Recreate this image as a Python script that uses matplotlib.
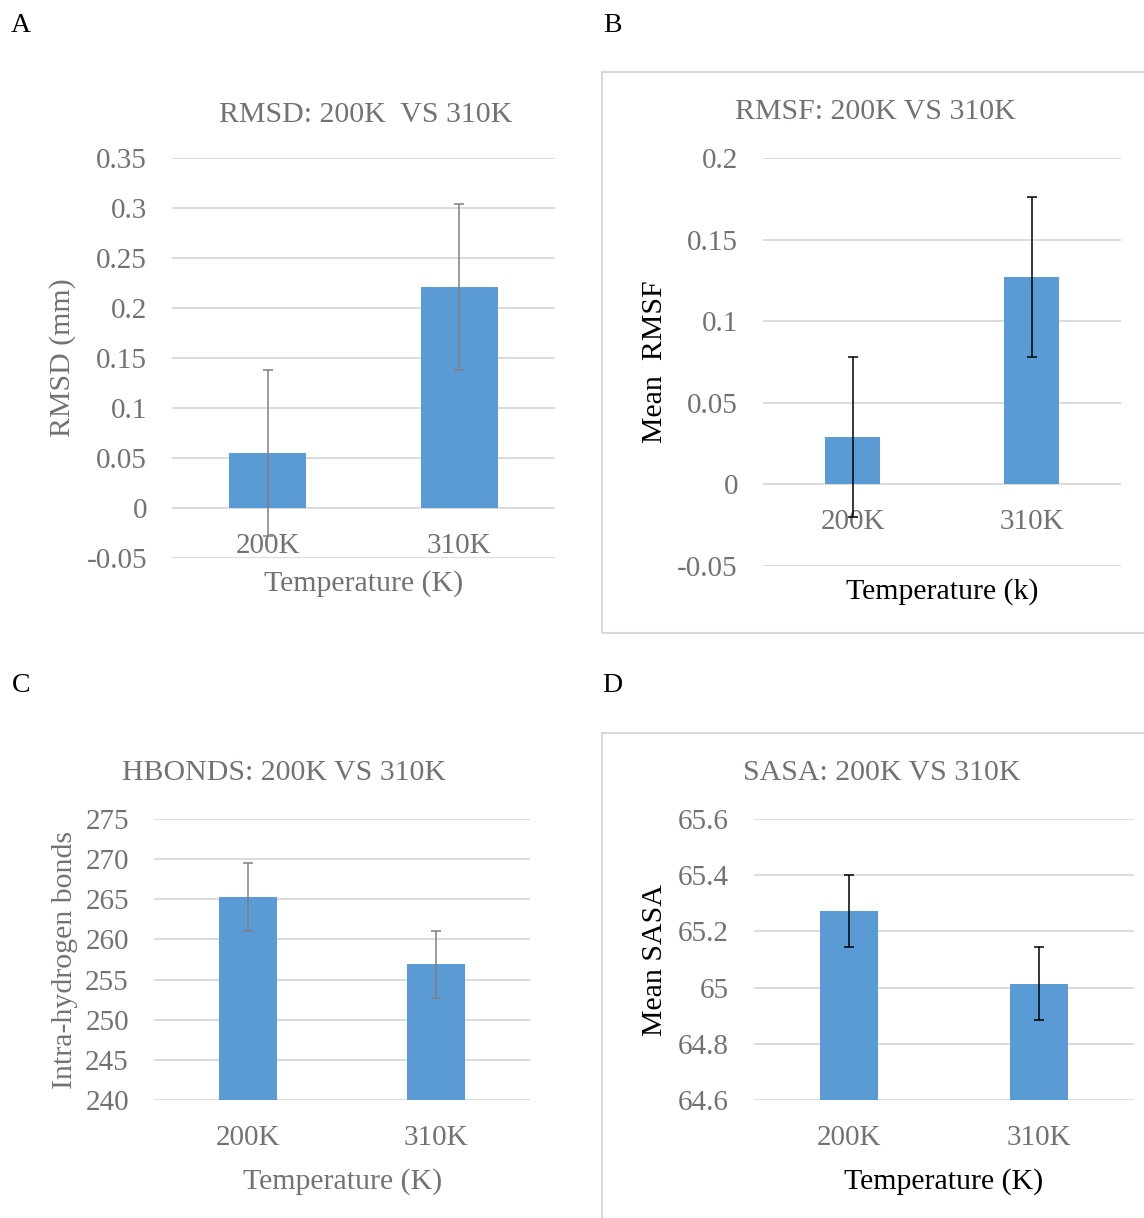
import matplotlib.pyplot as plt
from matplotlib.patches import Rectangle

plt.rcParams['font.family'] = ['Liberation Serif', 'DejaVu Serif']

W, H = 1144, 1218

# --- data ---
temps = ["200K", "310K"]

rmsd_mean = [0.055, 0.221]
rmsd_err = [0.083, 0.083]

rmsf_mean = [0.029, 0.127]
rmsf_err = [0.049, 0.049]

hbond_mean = [265.3, 256.9]
hbond_err = [4.2, 4.2]

sasa_mean = [65.273, 65.013]
sasa_err = [0.128, 0.13]

BLUE = "#5B9BD5"
GREY = "#767171"
GRID = "#D9D9D9"
FS_TICK = 21
FS_TEXT = 21.5


def px_axes(fig, x0, y0, x1, y1):
    return fig.add_axes([x0 / W, 1 - y1 / H, (x1 - x0) / W, (y1 - y0) / H])


def label(fig, x, y, s, color, rot=0, fs=FS_TEXT):
    # glyphs sit a bit high with va=center, nudge down a few px
    dx, dy = (3, 0) if rot else (0, 3)
    fig.text((x + dx) / W, 1 - (y + dy) / H, s, ha="center", va="center",
             rotation=rot, fontsize=fs, color=color)


def style(ax, ylim, yticks, ticklabels, bar_w, means, errs, ecolor, zero_spine):
    x = range(len(temps))
    ax.bar(x, means, width=bar_w, color=BLUE, zorder=2)
    ax.errorbar(x, means, yerr=errs, fmt="none", ecolor=ecolor, elinewidth=1.1,
                capsize=3.6, capthick=1.1, zorder=4)
    ax.set_xlim(-0.5, 1.5)
    ax.set_ylim(*ylim)
    ax.set_yticks(yticks)
    ax.set_yticklabels(ticklabels)
    ax.set_xticks(list(x))
    ax.set_xticklabels(temps)
    ax.grid(axis="y", color=GRID, lw=1.3, zorder=0)
    ax.set_axisbelow(True)
    for s in ax.spines.values():
        s.set_visible(False)
    if zero_spine:
        ax.spines["bottom"].set_position(("data", 0))
    ax.tick_params(axis="both", length=0, labelsize=FS_TICK, colors=GREY)
    ax.tick_params(axis="y", pad=18)
    ax.tick_params(axis="x", pad=18)


fig = plt.figure(figsize=(W / 100, H / 100), dpi=100)

# panel frames for B and D
fig.patches.append(Rectangle((602 / W, 1 - 633 / H), 0.6, (633 - 72) / H,
                             transform=fig.transFigure, fill=False, ec=GRID, lw=1.5))
fig.patches.append(Rectangle((602 / W, -0.1), 0.6, 0.1 + (1218 - 733) / H,
                             transform=fig.transFigure, fill=False, ec=GRID, lw=1.5))

# A
ax = px_axes(fig, 172, 158, 555, 558)
style(ax, (-0.05, 0.35), [-0.05, 0, 0.05, 0.1, 0.15, 0.2, 0.25, 0.3, 0.35],
      ["-0.05", "0", "0.05", "0.1", "0.15", "0.2", "0.25", "0.3", "0.35"],
      0.4, rmsd_mean, rmsd_err, "#7F7F7F", True)
label(fig, 366, 112, "RMSD: 200K  VS 310K", GREY)
label(fig, 60, 358, "RMSD (mm)", GREY, rot=90)
label(fig, 364, 581, "Temperature (K)", GREY)

# B
ax = px_axes(fig, 763, 158, 1121, 566)
style(ax, (-0.05, 0.2), [-0.05, 0, 0.05, 0.1, 0.15, 0.2],
      ["-0.05", "0", "0.05", "0.1", "0.15", "0.2"],
      0.31, rmsf_mean, rmsf_err, "#000000", True)
label(fig, 875, 109, "RMSF: 200K VS 310K", GREY)
label(fig, 652, 362, "Mean  RMSF", "black", rot=90)
label(fig, 942, 589, "Temperature (k)", "black")

# C
ax = px_axes(fig, 154, 819, 530, 1100)
style(ax, (240, 275), [240, 245, 250, 255, 260, 265, 270, 275],
      ["240", "245", "250", "255", "260", "265", "270", "275"],
      0.31, hbond_mean, hbond_err, "#7F7F7F", False)
label(fig, 284, 770, "HBONDS: 200K VS 310K", GREY)
label(fig, 62, 960, "Intra-hydrogen bonds", GREY, rot=90)
label(fig, 343, 1179, "Temperature (K)", GREY)

# D
ax = px_axes(fig, 754, 819, 1134, 1100)
style(ax, (64.6, 65.6), [64.6, 64.8, 65.0, 65.2, 65.4, 65.6],
      ["64.6", "64.8", "65", "65.2", "65.4", "65.6"],
      0.31, sasa_mean, sasa_err, "#000000", False)
label(fig, 882, 770, "SASA: 200K VS 310K", GREY)
label(fig, 652, 960, "Mean SASA", "black", rot=90)
label(fig, 944, 1179, "Temperature (K)", "black")

# panel letters
for lbl, (lx, ly) in zip("ABCD", [(21, 22), (612, 22), (21, 683), (612, 683)]):
    label(fig, lx, ly, lbl, "black", fs=20)

fig.savefig("out.png", dpi=100)
